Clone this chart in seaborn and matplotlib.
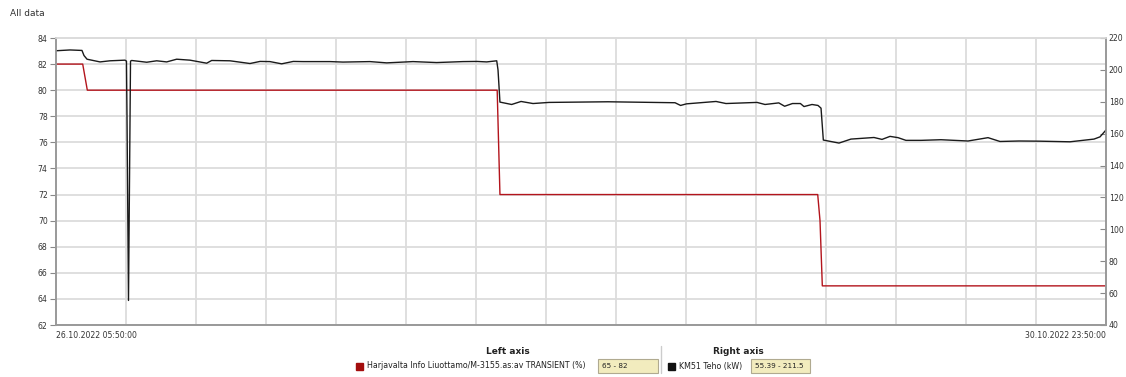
import seaborn as sns
import matplotlib.pyplot as plt
import matplotlib.dates as mdates
from matplotlib.patches import Rectangle
import pandas as pd

# hours after 26.10.2022 05:50:00
red_hours = [0, 2.9, 3.4, 47.9, 48.2, 82.7, 82.95, 83.2, 114]
red_pct = [82, 82, 80, 80, 72, 72, 70, 65, 65]

black_hours = [0, 1.52, 2.82, 3.04, 3.37, 4.78, 5.86, 7.49, 7.65, 7.71, 7.87, 8.09,
               8.22, 9.85, 10.93, 12.02, 13.10, 14.55, 16.36, 16.90, 18.89, 21.06,
               22.15, 23.23, 24.50, 25.76, 26.82, 29.75, 31.16, 34.09, 35.90, 38.76,
               41.33, 44.19, 45.68, 46.76, 47.85, 47.99, 48.20, 49.47, 50.49, 51.79,
               53.53, 59.93, 67.21, 67.81, 68.45, 71.66, 72.74, 76.11, 76.98, 78.47,
               79.11, 79.96, 80.82, 81.21, 82.08, 82.73, 83.06, 83.31, 85.01, 86.31,
               88.81, 89.68, 90.55, 91.42, 92.28, 93.91, 96.08, 99.02, 101.19, 102.49,
               104.55, 106.72, 110.09, 112.70, 113.35, 114]
black_kw = [212.0, 212.5, 212.2, 209.0, 206.7, 205.0, 205.7, 206.1, 205.5, 170.0, 55.39, 205.5,
            205.9, 204.8, 205.7, 205.0, 206.7, 206.1, 204.2, 205.9, 205.7, 204.0,
            205.3, 205.2, 203.8, 205.3, 205.2, 205.2, 204.9, 205.2, 204.4, 205.2,
            204.6, 205.2, 205.3, 205.0, 205.7, 200.0, 179.8, 178.3, 180.2, 178.9,
            179.6, 180.0, 179.4, 177.7, 178.7, 180.2, 178.9, 179.6, 178.3, 179.3,
            177.2, 178.9, 178.9, 177.0, 178.3, 177.7, 176.0, 156.0, 154.1, 156.6,
            157.6, 156.4, 158.3, 157.5, 155.8, 155.8, 156.2, 155.4, 157.5, 155.1,
            155.4, 155.3, 154.9, 156.6, 158.0, 162.3]

left_ticks = list(range(62, 85, 2))
right_ticks = list(range(40, 221, 20))
start = pd.Timestamp("2022-10-26 05:50:00")
end = pd.Timestamp("2022-10-30 23:50:00")

red = pd.DataFrame({"time": start + pd.to_timedelta(red_hours, unit="h"), "value": red_pct})
black = pd.DataFrame({"time": start + pd.to_timedelta(black_hours, unit="h"), "value": black_kw})

sns.set_style("white")
plt.rcParams['font.family'] = ['DejaVu Sans']
fig = plt.figure(figsize=(11.26, 3.77), dpi=100)
ax = fig.add_axes([56/1126, 1-325/377, 1050/1126, 287/377])
ax2 = ax.twinx()

grid_c = '#dcdcdc'
sns.lineplot(data=red, x="time", y="value", ax=ax, color='#b3141c', lw=1)
sns.lineplot(data=black, x="time", y="value", ax=ax2, color='#1a1a1a', lw=1)

ax.set_ylim(62, 84)
ax.set_yticks(left_ticks)
ax2.set_ylim(40, 220)
ax2.set_yticks(right_ticks)
ax.set_xlim(start, end)
ax.set_xlabel('')
ax.set_ylabel('')
ax2.set_ylabel('')

grid_times = [start + k * (end - start) / 15 for k in range(1, 15)]
ax.set_xticks(mdates.date2num(grid_times), minor=True)
ax.set_xticks(mdates.date2num([start, end]))
ax.set_xticklabels(['26.10.2022 05:50:00', '30.10.2022 23:50:00'])
labs = ax.get_xticklabels()
labs[0].set_horizontalalignment('left')
labs[1].set_horizontalalignment('right')

ax.grid(True, axis='y', color=grid_c, lw=1.3)
ax.grid(True, axis='x', which='minor', color=grid_c, lw=1.3)
ax.set_axisbelow(True)

ax.tick_params(axis='y', direction='out', length=4, width=0.8, color='#888888',
               labelsize=5.6, labelcolor='#333333', pad=2)
ax.tick_params(axis='x', which='major', length=0, labelsize=5.6, labelcolor='#333333', pad=4)
ax.tick_params(axis='x', which='minor', direction='in', length=4, width=0.8, color='#888888')
ax2.tick_params(axis='y', direction='in', length=4, width=0.8, color='#888888',
                labelsize=5.6, labelcolor='#333333', pad=2)

for a in (ax, ax2):
    for side in ('left', 'bottom', 'right'):
        a.spines[side].set_color('#999999')
        a.spines[side].set_linewidth(1.2)
    a.spines['top'].set_color(grid_c)
    a.spines['top'].set_linewidth(1.2)

fig.text(10/1126, 1-14/377, 'All data', fontsize=6.5, color='#333333', va='center')

# legend area
fig.text(508/1126, 1-352/377, 'Left axis', fontsize=6.5, weight='bold', ha='center', va='center', color='#222222')
fig.text(738/1126, 1-352/377, 'Right axis', fontsize=6.5, weight='bold', ha='center', va='center', color='#222222')
fig.add_artist(plt.Line2D([661/1126, 661/1126], [1-346/377, 1-373/377], color='#cccccc', lw=1))

fig.add_artist(Rectangle((356/1126, 1-370/377), 7/1126, 7/377, color='#a30d0d'))
fig.text(367/1126, 1-366/377, 'Harjavalta Info Liuottamo/M-3155.as:av TRANSIENT (%)', fontsize=5.7,
         va='center', color='#222222')
fig.add_artist(Rectangle((598/1126, 1-373/377), 60/1126, 14/377, facecolor='#f2ecbe',
                         edgecolor='#b0aa90', lw=0.8))
fig.text(602/1126, 1-366/377, '65 - 82', fontsize=5.2, va='center', color='#222222')

fig.add_artist(Rectangle((668/1126, 1-370/377), 7/1126, 7/377, color='#111111'))
fig.text(679/1126, 1-366/377, 'KM51 Teho (kW)', fontsize=5.7, va='center', color='#222222')
fig.add_artist(Rectangle((751/1126, 1-373/377), 59/1126, 14/377, facecolor='#f2ecbe',
                         edgecolor='#b0aa90', lw=0.8))
fig.text(755/1126, 1-366/377, '55.39 - 211.5', fontsize=5.2, va='center', color='#222222')

fig.savefig('out.png', dpi=100)
